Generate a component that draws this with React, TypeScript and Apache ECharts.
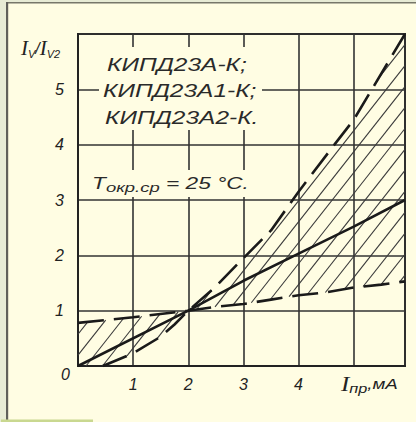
import React, { useEffect, useRef } from "react";
import * as echarts from "echarts";

// ---- data ----
const xMax = 5.93;
const yMax = 6;
const xTickLabels = [1, 2, 3, 4];
const yTickLabels = [0, 1, 2, 3, 4, 5];

// typical curve (solid)
const typX = [0, 2, 3, 4, 5, 5.93];
const typY = [0, 1, 1.54, 2.03, 2.52, 3.0];

// flat boundary (dashed)
const flatX = [0, 1, 2, 2.5, 3, 3.5, 4, 4.5, 5, 5.5, 5.93];
const flatY = [0.78, 0.88, 1, 1.07, 1.12, 1.2, 1.28, 1.33, 1.42, 1.47, 1.53];

// steep boundary (dashed)
const steepX = [0.45, 1, 1.5, 1.75, 2, 2.47, 3, 3.5, 4, 4.65, 5, 5.93];
const steepY = [0, 0.23, 0.53, 0.75, 1, 1.41, 1.95, 2.45, 3.15, 4, 4.45, 6];

const legendLines = ["КИПД23А-К;", "КИПД23А1-К;", "КИПД23А2-К."];

const zip = (xs: number[], ys: number[]) => xs.map((x, i) => [x, ys[i]]);

function hatchSegments(poly: number[][], spacing: number, slope: number, phase: number) {
  const cs = poly.map((p) => p[0] + p[1] / slope);
  const cMin = Math.min(...cs);
  const cMax = Math.max(...cs);
  const segs: number[][] = [];
  const k0 = Math.ceil((cMin - phase) / spacing);
  for (let c = phase + k0 * spacing; c < cMax; c += spacing) {
    const hits: number[][] = [];
    for (let i = 0; i < poly.length; i++) {
      const j = (i + 1) % poly.length;
      const a = poly[i];
      const b = poly[j];
      const ca = cs[i];
      const cb = cs[j];
      if ((ca <= c && cb > c) || (cb <= c && ca > c)) {
        const t = (c - ca) / (cb - ca);
        hits.push([a[0] + t * (b[0] - a[0]), a[1] + t * (b[1] - a[1])]);
      }
    }
    hits.sort((p, q) => p[0] - q[0]);
    for (let k = 0; k + 1 < hits.length; k += 2) {
      segs.push([hits[k][0], hits[k][1], hits[k + 1][0], hits[k + 1][1]]);
    }
  }
  return segs;
}

const BG = "#fffde3";
const INK = "#1a1a1a";

export default function App() {
  const ref = useRef<HTMLDivElement>(null);
  useEffect(() => {
    if (!ref.current) return;
    const chart = echarts.init(ref.current, undefined, { renderer: "svg" });
    const typ = zip(typX, typY);
    const flat = zip(flatX, flatY);
    const steep = zip(steepX, steepY);
    const leftPoly = [
      [0, 0],
      ...flat.filter((p) => p[0] <= 2),
      ...steep.filter((p) => p[0] <= 2).reverse(),
    ];
    const rightPoly = [
      ...steep.filter((p) => p[0] >= 2),
      ...flat.filter((p) => p[0] >= 2).reverse(),
    ];

    const tickFont = { fontFamily: "Liberation Sans", fontStyle: "italic", fontSize: 16, color: "#222" };

    const option: any = {
      animation: false,
      backgroundColor: BG,
      grid: {
        left: 78,
        top: 34,
        right: 11,
        bottom: 56,
        show: true,
        borderColor: "#222",
        borderWidth: 2,
        backgroundColor: "transparent",
      },
      xAxis: {
        type: "value",
        min: 0,
        max: xMax,
        interval: 1,
        axisLine: { show: true, lineStyle: { color: "#222", width: 2 } },
        axisTick: { show: false },
        splitLine: { show: true, lineStyle: { color: "#333", width: 1.6 } },
        axisLabel: {
          margin: 10,
          ...tickFont,
          formatter: (v: number) => (xTickLabels.indexOf(v) >= 0 ? String(v) : ""),
        },
      },
      yAxis: {
        type: "value",
        min: 0,
        max: yMax,
        interval: 1,
        axisLine: { show: true, lineStyle: { color: "#222", width: 2 } },
        axisTick: { show: false },
        splitLine: { show: true, lineStyle: { color: "#333", width: 1.6 } },
        axisLabel: {
          margin: 8,
          ...tickFont,
          formatter: (v: number) =>
            yTickLabels.indexOf(v) < 0 ? "" : v === 0 ? "{z|0}" : `{n|${v}}`,
          rich: {
            n: { ...tickFont, padding: [0, 6, 0, 0] },
            z: { ...tickFont, padding: [16, 0, 0, 0] },
          },
        },
      },
      series: [
        {
          type: "custom",
          coordinateSystem: "cartesian2d",
          data: [[0, 0]],
          silent: true,
          z: 3,
          renderItem: (_params: any, api: any) => {
            const children: any[] = [];
            const o = api.coord([0, 0]);
            const slope = 1.27;
            const spacing = 16.5;
            const phase = o[0] + o[1] / slope + 8;
            [leftPoly, rightPoly].forEach((poly) => {
              const px = poly.map((p) => api.coord(p));
              hatchSegments(px, spacing, slope, phase).forEach((s) => {
                children.push({
                  type: "line",
                  shape: { x1: s[0], y1: s[1], x2: s[2], y2: s[3] },
                  style: { stroke: "#3a3a3a", lineWidth: 1.1 },
                });
              });
            });
            return { type: "group", children };
          },
        },
        {
          type: "line",
          data: typ,
          symbol: "none",
          z: 6,
          lineStyle: { color: INK, width: 2.6 },
        },
        {
          type: "line",
          data: flat,
          symbol: "none",
          z: 5,
          lineStyle: { color: INK, width: 2.6, type: [26, 10] },
        },
        {
          type: "line",
          data: steep,
          symbol: "none",
          z: 5,
          lineStyle: { color: INK, width: 2.6, type: [26, 10] },
        },
      ],
      graphic: [
        // page frame
        { type: "rect", z: 50, shape: { x: 0, y: 0, width: 6, height: 422 }, style: { fill: "#e7ebd5" } },
        { type: "rect", z: 50, shape: { x: 0, y: 0, width: 416, height: 2 }, style: { fill: "#e7ebd5" } },
        { type: "rect", z: 51, shape: { x: 6, y: 2, width: 410, height: 1.5 }, style: { fill: "#77776a" } },
        { type: "rect", z: 51, shape: { x: 6, y: 2, width: 2.2, height: 418 }, style: { fill: "#5f5f5a" } },
        { type: "rect", z: 51, shape: { x: 1, y: 419.5, width: 92, height: 2.5 }, style: { fill: "#c9d890" } },
        // blank-out areas behind the notes
        { type: "rect", z: 100, shape: { x: 99, y: 47, width: 163, height: 83 }, style: { fill: BG } },
        { type: "rect", z: 100, shape: { x: 90, y: 170, width: 158, height: 27 }, style: { fill: BG } },
        // legend notes
        ...legendLines.map((t, i) => ({
          type: "text",
          z: 101,
          x: [107, 103, 105][i],
          y: [65, 91.5, 118.5][i],
          scaleX: 1.36,
          style: {
            text: t,
            font: 'italic 18px "Liberation Sans"',
            fill: "#2a2a2a",
            align: "left",
            textAlign: "left",
            verticalAlign: "middle",
            textVerticalAlign: "middle",
          },
        })),
        {
          type: "text",
          z: 101,
          x: 92,
          y: 183,
          scaleX: 1.42,
          style: {
            text: "{m|Т}{s|окр.ср}{m| = 25 °С.}",
            fill: "#2a2a2a",
            align: "left",
            textAlign: "left",
            verticalAlign: "middle",
            textVerticalAlign: "middle",
            rich: {
              m: { font: 'italic 16px "Liberation Sans"', fill: "#2a2a2a", lineHeight: 22, verticalAlign: "middle" },
              s: { font: 'italic 13px "Liberation Sans"', fill: "#2a2a2a", lineHeight: 13, verticalAlign: "bottom" },
            },
          },
        },
        // y axis name
        {
          type: "text",
          z: 101,
          x: 21,
          y: 48,
          style: {
            text: "{I|I}{s|V}{m|/}{I|I}{s|V2}",
            fill: "#222",
            align: "left",
            textAlign: "left",
            verticalAlign: "middle",
            textVerticalAlign: "middle",
            rich: {
              I: { font: 'italic 21px "Liberation Serif"', fill: "#222", lineHeight: 22, verticalAlign: "middle" },
              m: { font: 'italic 16px "Liberation Sans"', fill: "#222", lineHeight: 22, verticalAlign: "middle" },
              s: { font: 'italic 11px "Liberation Sans"', fill: "#222", lineHeight: 12, verticalAlign: "bottom" },
            },
          },
        },
        // x axis name
        {
          type: "text",
          z: 101,
          x: 341,
          y: 384,
          scaleX: 1.25,
          style: {
            text: "{I|I}{s|пр}{m|,мА}",
            fill: "#222",
            align: "left",
            textAlign: "left",
            verticalAlign: "middle",
            textVerticalAlign: "middle",
            rich: {
              I: { font: 'italic 20px "Liberation Serif"', fill: "#222", lineHeight: 22, verticalAlign: "middle" },
              m: { font: 'italic 15px "Liberation Sans"', fill: "#222", lineHeight: 22, verticalAlign: "middle" },
              s: { font: 'italic 13px "Liberation Sans"', fill: "#222", lineHeight: 13, verticalAlign: "bottom" },
            },
          },
        },
      ],
    };
    chart.setOption(option);
    return () => chart.dispose();
  }, []);
  return (
    <div
      ref={ref}
      style={{ position: "absolute", left: 0, top: 0, width: 416, height: 422 }}
    />
  );
}
